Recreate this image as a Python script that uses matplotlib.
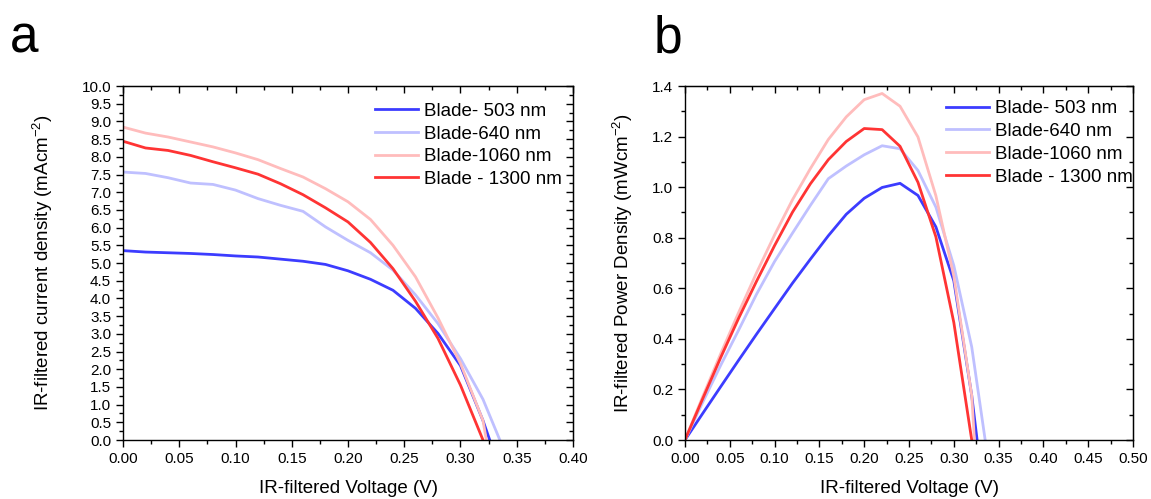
import numpy as np
import matplotlib
matplotlib.use("Agg")
import matplotlib.pyplot as plt
from matplotlib.ticker import MultipleLocator, FormatStrFormatter

plt.rcParams['font.family'] = ['Liberation Sans', 'DejaVu Sans']
plt.rcParams['mathtext.fontset'] = 'custom'
plt.rcParams['mathtext.rm'] = 'Liberation Sans'
plt.rcParams['mathtext.it'] = 'Liberation Sans'

labels = ['Blade- 503 nm', 'Blade-640 nm', 'Blade-1060 nm', 'Blade - 1300 nm']
colors = ['#3c3cff', '#bfc0ff', '#ffbcbc', '#ff3434']

v = [0.00, 0.02, 0.04, 0.06, 0.08, 0.10, 0.12, 0.14, 0.16, 0.18,
     0.20, 0.22, 0.24, 0.26, 0.28, 0.30, 0.32]

# current density (mA cm^-2) at each voltage; voc = where the curve hits zero
j503 = [5.35, 5.31, 5.29, 5.27, 5.24, 5.20, 5.17, 5.11, 5.05, 4.96,
        4.78, 4.54, 4.23, 3.72, 3.01, 2.10, 0.55]
voc503 = 0.326
j640 = [7.57, 7.53, 7.41, 7.26, 7.22, 7.06, 6.82, 6.63, 6.46, 6.02,
        5.64, 5.29, 4.80, 4.10, 3.29, 2.30, 1.15]
voc640 = 0.335
j1060 = [8.84, 8.67, 8.56, 8.42, 8.28, 8.11, 7.92, 7.67, 7.43, 7.10,
         6.73, 6.23, 5.50, 4.61, 3.45, 2.16, 0.55]
voc1060 = 0.323
j1300 = [8.44, 8.25, 8.18, 8.04, 7.86, 7.69, 7.51, 7.24, 6.93, 6.56,
         6.16, 5.58, 4.84, 3.92, 2.87, 1.55, 0.0]
voc1300 = 0.320

curves = [(j503, voc503), (j640, voc640), (j1060, voc1060), (j1300, voc1300)]

fig = plt.figure(figsize=(11.51, 4.99), dpi=100)
axa = fig.add_axes([0.1069, 0.1182, 0.3909, 0.7094])
axb = fig.add_axes([0.5951, 0.1182, 0.3893, 0.7094])

for (j, voc), c, lab in zip(curves, colors, labels):
    vv = np.array(v)
    jj = np.array(j)
    if jj[-1] > 0:
        vv = np.append(vv, voc)
        jj = np.append(jj, 0.0)
    axa.plot(vv, jj, color=c, lw=2.0, label=lab)
    axb.plot(vv, vv * jj, color=c, lw=2.0, label=lab)


def style(ax, xmax, ymax, ymaj, ymin):
    ax.set_xlim(0, xmax)
    ax.set_ylim(0, ymax)
    ax.xaxis.set_major_locator(MultipleLocator(0.05))
    ax.xaxis.set_minor_locator(MultipleLocator(0.025))
    ax.yaxis.set_major_locator(MultipleLocator(ymaj))
    ax.yaxis.set_minor_locator(MultipleLocator(ymin))
    ax.xaxis.set_major_formatter(FormatStrFormatter('%.2f'))
    ax.yaxis.set_major_formatter(FormatStrFormatter('%.1f'))
    ax.tick_params(which='major', direction='out', length=5, width=1, labelsize=11, pad=3.5)
    ax.tick_params(which='minor', direction='out', length=3, width=1)
    for s in ax.spines.values():
        s.set_linewidth(1.0)
    top = ax.secondary_xaxis('top')
    top.xaxis.set_major_locator(MultipleLocator(0.05))
    top.xaxis.set_minor_locator(MultipleLocator(0.025))
    top.tick_params(which='major', direction='in', length=5, width=1, labeltop=False)
    top.tick_params(which='minor', direction='in', length=3, width=1)
    right = ax.secondary_yaxis('right')
    right.yaxis.set_major_locator(MultipleLocator(ymaj))
    right.yaxis.set_minor_locator(MultipleLocator(ymin))
    right.tick_params(which='major', direction='in', length=5, width=1, labelright=False)
    right.tick_params(which='minor', direction='in', length=3, width=1)
    ax.set_xlabel('IR-filtered Voltage (V)', fontsize=13.5, labelpad=10)


style(axa, 0.40, 10.0, 0.5, 0.25)
style(axb, 0.50, 1.4, 0.2, 0.1)

axa.set_ylabel('IR-filtered current density (mAcm$^{\\mathregular{-2}}$)', fontsize=13.5, labelpad=19)
axb.set_ylabel('IR-filtered Power Density (mWcm$^{\\mathregular{-2}}$)', fontsize=13.5, labelpad=12)

for ax, x0, y0 in [(axa, 0.56, 0.953), (axb, 0.583, 0.96)]:
    ax.legend(loc='upper left', bbox_to_anchor=(x0, y0), frameon=False,
              fontsize=13.5, borderpad=0, borderaxespad=0, handlelength=2.3,
              handletextpad=0.3, labelspacing=0.3)

fig.text(0.009, 0.895, 'a', fontsize=37)
fig.text(0.568, 0.895, 'b', fontsize=37)

fig.savefig('out.png', dpi=100)
